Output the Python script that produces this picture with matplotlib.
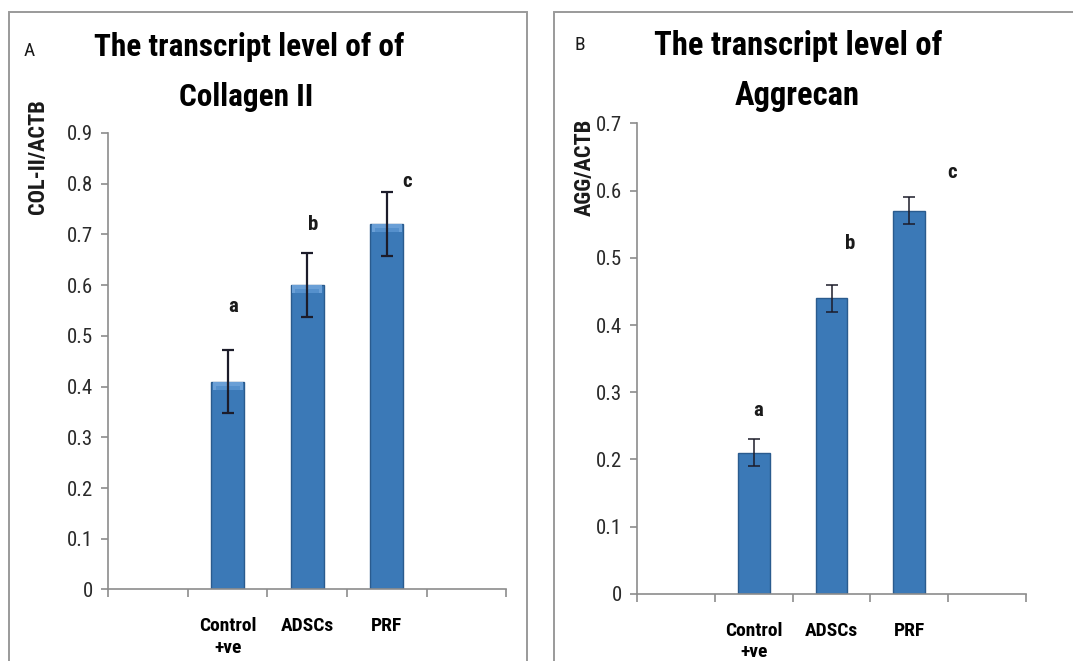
import matplotlib
matplotlib.use("Agg")
import matplotlib.pyplot as plt
from matplotlib import font_manager
from matplotlib.patches import Rectangle
from matplotlib.ticker import FixedLocator, NullFormatter, FixedFormatter

# groups and measured transcript ratios
groups = ["Control\n+ve", "ADSCs", "PRF"]
col2_mean = [0.41, 0.60, 0.72]
col2_err = [0.062, 0.063, 0.063]
agg_mean = [0.21, 0.44, 0.57]
agg_err = [0.02, 0.02, 0.02]
sig_letters = ["a", "b", "c"]

# where the significance letters sit relative to the top of each error bar
col2_letter_dx = [0.07, 0.07, 0.26]
col2_letter_dy = [0.085, 0.056, 0.021]
agg_letter_dx = [0.06, 0.24, 0.55]
agg_letter_dy = [0.043, 0.061, 0.037]


def pick_font(candidates):
    for name in candidates:
        try:
            font_manager.findfont(font_manager.FontProperties(family=name),
                                  fallback_to_default=False)
            return name
        except ValueError:
            continue
    return "DejaVu Sans"


FONT = pick_font(["Liberation Sans Narrow", "Roboto Condensed", "Open Sans", "Lato"])
plt.rcParams["font.family"] = [FONT, "DejaVu Sans"]

BAR = "#3b79b7"
BAR_EDGE = "#2a5b8e"
AXIS = "#8c8c8c"
TEXT = "#1a1a1a"

fig = plt.figure(figsize=(10.73, 6.61), dpi=100)

# panel frames
for x0, x1 in [(9.3, 527), (554.3, 1090)]:
    fig.patches.append(Rectangle((x0 / 1073, -0.05), (x1 - x0) / 1073, 1.05 - 12.4 / 661,
                                 transform=fig.transFigure, fill=False,
                                 edgecolor="#9a9a9a", linewidth=1.4))


def draw_panel(ax, means, errs, ymax, dx, dy, bevel, capw, elw):
    n = len(groups)
    xs = [i + 1.5 for i in range(n)]
    ax.bar(xs, means, width=0.41, color=BAR, edgecolor=BAR_EDGE, linewidth=1.0, zorder=2)
    if bevel:
        # lighter band along the top edge of each bar
        band = 0.016 * ymax / 0.9
        ax.bar(xs, [band] * n, bottom=[m - band for m in means], width=0.38,
               color="#6a9fd6", linewidth=0, zorder=3)
        ax.bar(xs, [band * 0.5] * n, bottom=[m - band for m in means], width=0.30,
               color="#5590cc", linewidth=0, zorder=3)
    ax.errorbar(xs, means, yerr=errs, fmt="none", ecolor="#1c1c2a",
                elinewidth=elw, capsize=capw, capthick=elw, zorder=4)
    for x, m, e, l, ddx, ddy in zip(xs, means, errs, sig_letters, dx, dy):
        ax.text(x + ddx, m + e + ddy, l, ha="center", va="center",
                fontsize=15, fontweight="bold", color=TEXT)

    ax.set_xlim(0, n + 2)
    ax.set_ylim(0, ymax)
    ax.set_yticks([round(0.1 * k, 1) for k in range(int(round(ymax * 10)) + 1)])
    ax.yaxis.set_major_formatter(plt.FuncFormatter(lambda v, p: "0" if v == 0 else f"{v:.1f}"))
    ax.xaxis.set_major_locator(FixedLocator(range(n + 3)))
    ax.xaxis.set_major_formatter(NullFormatter())
    ax.xaxis.set_minor_locator(FixedLocator(xs))
    ax.xaxis.set_minor_formatter(FixedFormatter(groups))
    ax.tick_params(axis="x", which="major", direction="out", length=6, width=1.2, color=AXIS)
    ax.tick_params(axis="x", which="minor", length=0, pad=20, labelsize=14)
    ax.tick_params(axis="y", direction="out", length=5, width=1.2, color=AXIS,
                   labelsize=15, pad=6, labelcolor="#2a2a2a")
    for lab in ax.xaxis.get_minorticklabels():
        lab.set_fontweight("bold")
        lab.set_linespacing(1.25)
        lab.set_verticalalignment("top")
    for s in ["top", "right"]:
        ax.spines[s].set_visible(False)
    for s in ["left", "bottom"]:
        ax.spines[s].set_color(AXIS)
        ax.spines[s].set_linewidth(1.2)


axA = fig.add_axes([0.1011, 0.1082, 0.3705, 0.6906])
draw_panel(axA, col2_mean, col2_err, 0.9,
           col2_letter_dx, col2_letter_dy, True, 4, 1.6)
axB = fig.add_axes([0.5937, 0.1014, 0.3625, 0.7121])
draw_panel(axB, agg_mean, agg_err, 0.7,
           agg_letter_dx, agg_letter_dy, False, 4, 1.1)

# y-axis labels sit near the top of each axis, as in the spreadsheet layout
fig.text(38 / 1073, 1 - 157 / 661, "COL-II/ACTB", rotation=90, ha="center", va="center",
         fontsize=16, fontweight="bold", color=TEXT)
fig.text(585 / 1073, 1 - 167 / 661, "AGG/ACTB", rotation=90, ha="center", va="center",
         fontsize=16, fontweight="bold", color=TEXT)

# titles and panel letters
fig.text(249 / 1073, 1 - 56 / 661, "The transcript level of of", ha="center", va="baseline",
         fontsize=22.5, fontweight="bold", color="black")
fig.text(246 / 1073, 1 - 106 / 661, "Collagen II", ha="center", va="baseline",
         fontsize=22.5, fontweight="bold", color="black")
fig.text(798 / 1073, 1 - 55 / 661, "The transcript level of", ha="center", va="baseline",
         fontsize=23.5, fontweight="bold", color="black")
fig.text(797 / 1073, 1 - 105 / 661, "Aggrecan", ha="center", va="baseline",
         fontsize=23.5, fontweight="bold", color="black")
fig.text(29 / 1073, 1 - 51 / 661, "A", ha="center", va="center", fontsize=14, color=TEXT)
fig.text(580 / 1073, 1 - 45 / 661, "B", ha="center", va="center", fontsize=14, color=TEXT)

fig.savefig("out.png", dpi=100)
